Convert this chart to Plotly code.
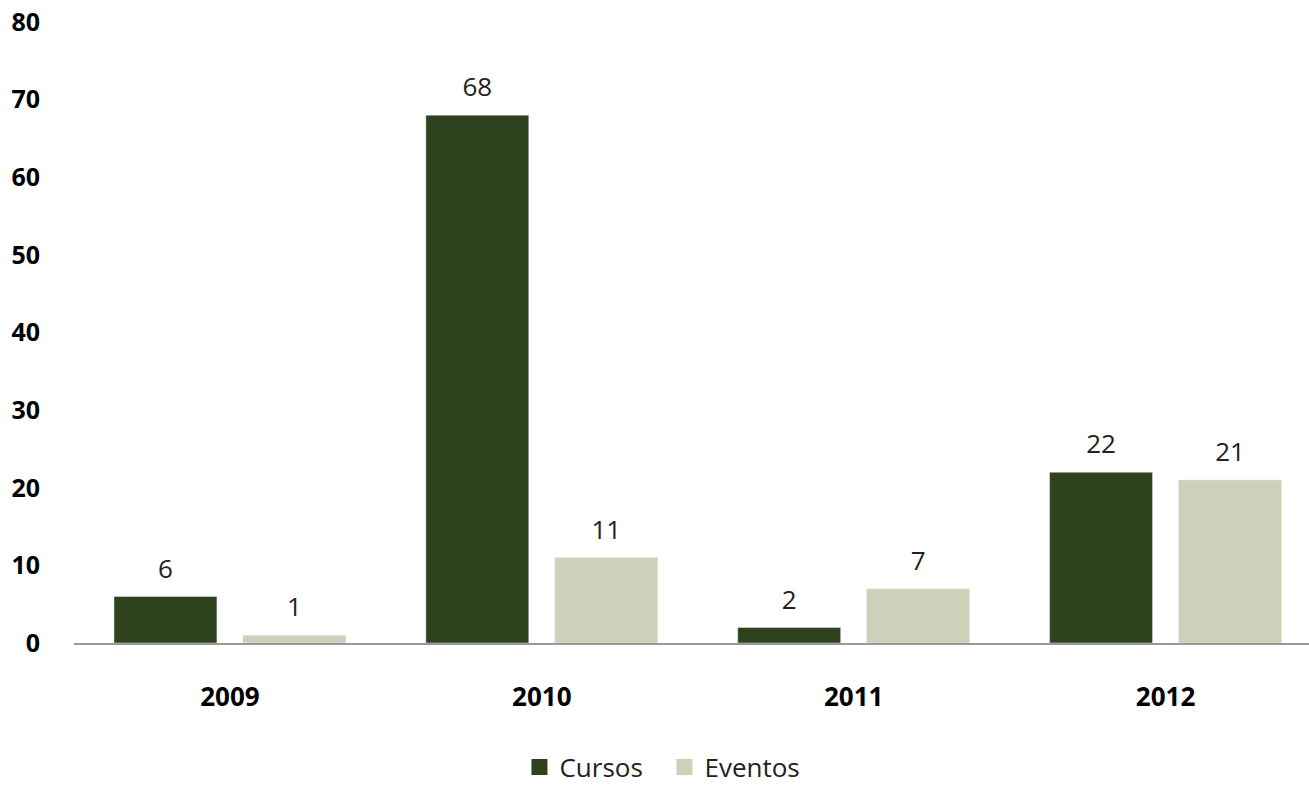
import plotly.graph_objects as go

years = ["2009", "2010", "2011", "2012"]
cursos = [6, 68, 2, 22]
eventos = [1, 11, 7, 21]
yticks = [0, 10, 20, 30, 40, 50, 60, 70, 80]

DARK = "#2E431D"
LIGHT = "#CCD1BA"
FONT = "Open Sans"
GAP = 0.173

fig = go.Figure()
# bars
fig.add_trace(go.Bar(name="Cursos", x=years, y=cursos, marker_color=DARK,
                     showlegend=False, hoverinfo="x+y"))
fig.add_trace(go.Bar(name="Eventos", x=years, y=eventos, marker_color=LIGHT,
                     showlegend=False, hoverinfo="x+y"))
# value labels (grouped scatter so they sit above each bar)
for name, vals in (("Cursos", cursos), ("Eventos", eventos)):
    fig.add_trace(go.Scatter(x=years, y=vals, mode="markers+text",
                             text=[str(v) for v in vals], textposition="top center",
                             textfont=dict(family=FONT, size=26, color="#222222"),
                             marker=dict(size=18, opacity=0), cliponaxis=False,
                             showlegend=False, hoverinfo="skip"))
# legend entries (on hidden overlay axes so they don't affect grouping)
for name, col in (("Cursos", DARK), ("Eventos", LIGHT)):
    fig.add_trace(go.Scatter(x=[years[0]], y=[None], mode="markers", name=name,
                             marker=dict(symbol="square", size=17, color=col),
                             xaxis="x2", yaxis="y2", showlegend=True))

fig.update_layout(
    width=1309, height=786,
    margin=dict(l=74, r=0, t=22, b=143),
    paper_bgcolor="white", plot_bgcolor="white",
    font=dict(family=FONT, size=25, color="#000000"),
    barmode="group", bargap=GAP, bargroupgap=0.2016,
    scattermode="group", scattergap=GAP,
    showlegend=True,
    legend=dict(orientation="h", x=0.5076, xanchor="center", xref="container",
                y=19 / 786, yanchor="middle", yref="container",
                entrywidth=100, entrywidthmode="pixels",
                font=dict(family=FONT, size=26, color="#222222"),
                traceorder="normal", itemclick=False, itemdoubleclick=False),
    xaxis=dict(type="category", categoryorder="array", categoryarray=years,
               range=[-0.5, 3.46], showline=True, linecolor="#999999", linewidth=2,
               tickfont=dict(size=26, family=FONT, weight="bold"),
               ticks="", ticklabelstandoff=30, automargin=False),
    yaxis=dict(range=[0, 80], tickvals=yticks, showgrid=False, zeroline=False,
               showline=False, ticks="",
               tickfont=dict(size=25, family=FONT, weight="bold"),
               ticklabelstandoff=33, automargin=False),
    xaxis2=dict(overlaying="x", visible=False, type="category", categoryarray=years,
                range=[-0.5, 3.46]),
    yaxis2=dict(overlaying="y", visible=False, range=[0, 80]),
)
fig.write_html("out.html", config={"displayModeBar": False},
               post_script="document.body.style.margin='0px';")
